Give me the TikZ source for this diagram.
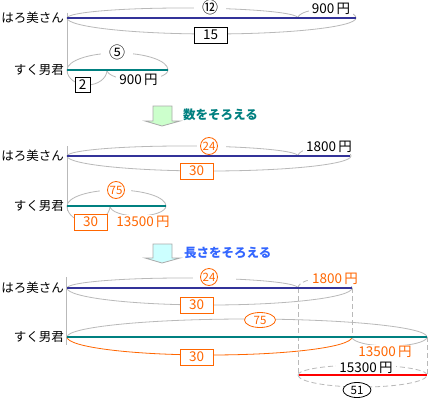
\documentclass[tikz,border=0pt]{standalone}
\usepackage{fontspec}
\setmainfont{Noto Sans CJK JP}
\usetikzlibrary{shapes.geometric}
\definecolor{braceg}{RGB}{185,185,185}
\definecolor{orangec}{RGB}{255,102,0}
\definecolor{bluec}{RGB}{51,51,153}
\definecolor{tealc}{RGB}{0,128,128}
\definecolor{headblue}{RGB}{51,102,255}
\definecolor{greenf}{RGB}{204,255,204}
\definecolor{cyanf}{RGB}{204,255,255}
\definecolor{redc}{RGB}{255,0,0}
\definecolor{arrowg}{RGB}{170,170,170}
\newcommand\arcup[5][]{\pgfmathsetmacro\myrx{(#3-#2)/2}\draw[brace,#1] (#2,#4) arc[start angle=180,end angle=0,x radius=\myrx pt,y radius=#5pt];}
\newcommand\arcdn[5][]{\pgfmathsetmacro\myrx{(#3-#2)/2}\draw[brace,#1] (#2,#4) arc[start angle=180,end angle=360,x radius=\myrx pt,y radius=#5pt];}
\newcommand\fsz{\fontsize{12.5}{14}\selectfont}
\newcommand\fsn{\fontsize{13.5}{15}\selectfont}
\newcommand\fsc{\fontsize{16}{16}\selectfont}
\newcommand\fsm{\fontsize{11.5}{12}\selectfont}
\tikzset{
  brace/.style={draw=braceg,line width=0.8pt},
  vline/.style={draw=braceg,line width=0.8pt},
  dline/.style={draw=braceg,line width=0.8pt,dash pattern=on 5pt off 3pt},
  bluebar/.style={draw=bluec,line width=2pt},
  tealbar/.style={draw=tealc,line width=2pt},
  redbar/.style={draw=redc,line width=2pt},
  lab/.style={font=\fsz,inner sep=1pt,anchor=east},
  glab/.style={font=\fsn,fill=white,inner xsep=3pt,inner ysep=1pt},
  clab/.style={font=\fsc,fill=white,inner xsep=8pt,inner ysep=0pt},
  bbox/.style={draw=black,fill=white,font=\fsn,minimum width=33pt,minimum height=16pt,inner sep=0pt,line width=0.8pt},
  obox/.style={draw=orangec,text=orangec,fill=white,font=\fsn,minimum width=33pt,minimum height=16pt,inner sep=0pt,line width=0.8pt},
  ocirc/.style={circle,draw=orangec,text=orangec,fill=white,font=\fsm,minimum size=17pt,inner sep=0pt,line width=0.8pt},
  oell/.style={ellipse,draw=orangec,text=orangec,fill=white,font=\fsm,minimum width=31pt,minimum height=15pt,inner sep=0pt,line width=0.8pt},
  bell/.style={ellipse,draw=black,fill=white,font=\fsm,minimum width=28pt,minimum height=15pt,inner sep=0pt,line width=0.8pt},
  arrowbox/.style={draw=arrowg,line width=0.8pt},
  head/.style={font=\fsz\bfseries,anchor=west,inner sep=0pt}
}
\begin{document}
\begin{tikzpicture}[x=1pt,y=-1pt]
\useasboundingbox[fill=white] (0,0) rectangle (430,401);

% ===== Section 1 =====
\node[lab] (h1) at (65,18) {はろ美さん};
\node[lab] (s1) at (65,70) {すく男君};
\draw[vline] (67,13) -- (67,74);
\arcup{67}{298}{18}{10}
\arcup{298}{356}{18}{9}
\arcdn{67}{356}{18}{16}
\arcup{67}{168}{70}{17}
\arcdn{67}{107}{70}{15}
\arcdn{107}{168}{70}{10}
\node[clab] (n12) at (210,7) {⑫};
\node[glab] (p900a) at (331,9) {900\,円};
\node[bbox] (b15) at (210.5,35) {15};
\node[clab] (n5) at (117,52) {⑤};
\node[bbox,minimum width=15pt,minimum height=15pt] (b2) at (82.5,84.5) {2};
\node[glab] (p900b) at (138.5,80) {900\,円};
\draw[bluebar] (67,18) -- (356,18);
\draw[tealbar] (67,70) -- (168,70);

% arrow 1
\draw[arrowbox,fill=greenf] (153,106) -- (172,106) -- (172,121) -- (180,121) -- (162,126) -- (145,121) -- (153,121) -- cycle;
\node[head,text=tealc] (t1) at (183,115) {数をそろえる};

% ===== Section 2 =====
\node[lab] (h2) at (65,156) {はろ美さん};
\node[lab] (s2) at (65,206) {すく男君};
\draw[vline] (67,146) -- (67,211);
\arcup{67}{298}{156}{10}
\arcup{298}{351}{156}{9}
\arcdn{67}{351}{156}{15}
\arcup{67}{166}{206}{16}
\arcdn{67}{110}{206}{16}
\arcdn{110}{166}{206}{10}
\fill[white] (197,140) rectangle (226,152);
\node[ocirc] (c24a) at (209,146) {24};
\node[glab] (p1800a) at (329,147) {1800\,円};
\node[obox] (b30a) at (196.5,171) {30};
\fill[white] (100,184) rectangle (131,196);
\node[ocirc] (c75a) at (116,190) {75};
\node[obox] (b30b) at (90.5,222) {30};
\node[glab,text=orangec] (p13500a) at (143,222) {13500\,円};
\draw[bluebar] (67,156) -- (350,156);
\draw[tealbar] (67,206) -- (166,206);

% arrow 2
\draw[arrowbox,fill=cyanf] (153,244) -- (172,244) -- (172,258) -- (180,258) -- (162,263) -- (145,258) -- (153,258) -- cycle;
\node[head,text=headblue] (t2) at (184,253) {長さをそろえる};

% ===== Section 3 =====
\node[lab] (h3) at (65,288) {はろ美さん};
\node[lab] (s3) at (65,337) {すく男君};
\draw[vline] (66,277) -- (66,345);
\arcup{67}{298}{288}{10}
\arcup[dline]{298}{352}{288}{10}
\arcdn{67}{352}{288}{17}
\arcup{67}{427}{337}{18}
\arcdn[draw=orangec]{67}{352}{337}{18}
\arcdn{352}{427}{337}{9}
\draw[dline] (298,288) -- (298,376);
\draw[dline] (352,288) -- (352,337);
\draw[dline] (427,337) -- (427,376);
\arcup[dline]{298}{427}{375}{10}
\arcdn[dline]{298}{427}{375}{12}
\fill[white] (193,271) rectangle (236,283);
\node[ocirc] (c24b) at (209,277) {24};
\node[glab,text=orangec] (p1800b) at (335,279) {1800\,円};
\node[obox] (b30c) at (196.5,305) {30};
\node[oell] (e75) at (260,320) {75};
\node[obox] (b30d) at (196.5,357) {30};
\node[glab,text=orangec] (p13500b) at (385,352) {13500\,円};
\node[glab] (p15300) at (366,368) {15300\,円};
\node[bell] (e51) at (357,390) {51};
\draw[bluebar] (67,288) -- (352,288);
\draw[tealbar] (67,337) -- (427,337);
\draw[redbar] (299,375) -- (427,375);
\end{tikzpicture}
\end{document}
